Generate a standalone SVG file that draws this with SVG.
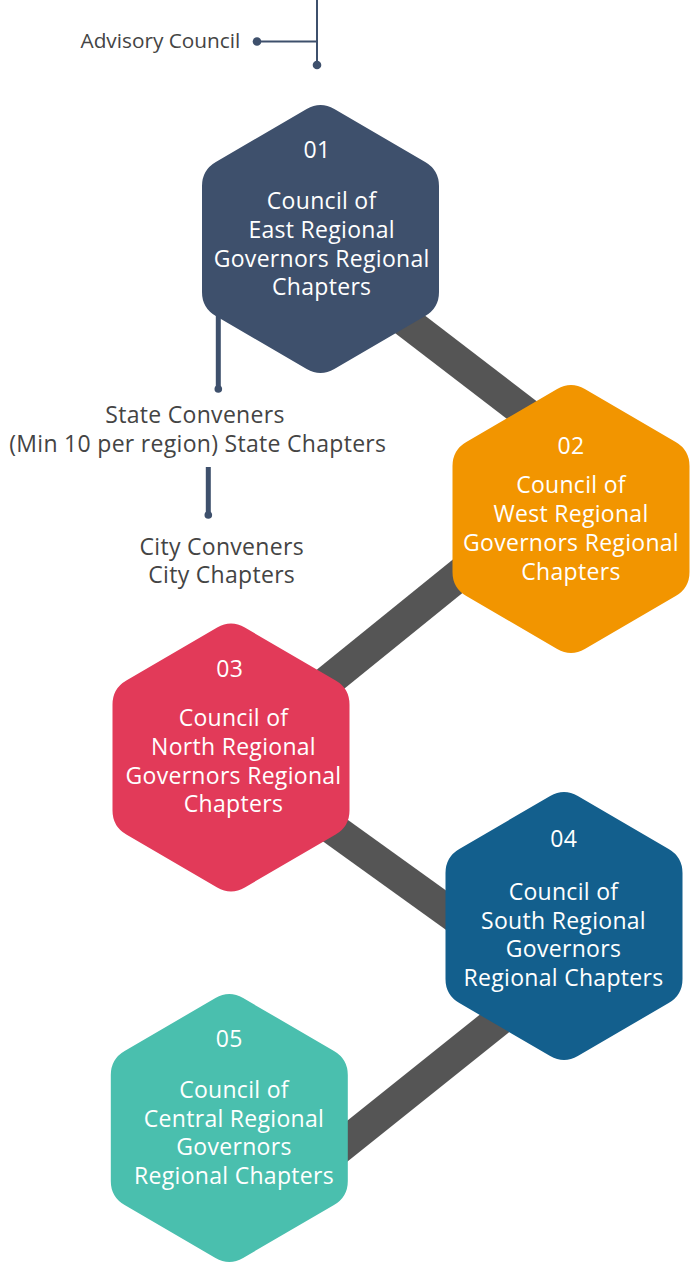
<svg xmlns="http://www.w3.org/2000/svg" xmlns:xlink="http://www.w3.org/1999/xlink" width="698" height="1263" viewBox="0 0 698 1263">
<style>
.bar{stroke:#555555;stroke-width:32;fill:none;stroke-linecap:butt}
.thin{stroke:#3e506c;stroke-width:2;fill:none}
.thick{stroke:#3e506c;stroke-width:5;fill:none}
.dot{fill:#3e506c}
.lbl{font-family:"Open Sans","Liberation Sans",sans-serif;font-size:23px;letter-spacing:0.3px;fill:#444444;text-anchor:middle}
.adv{font-family:"Open Sans","Liberation Sans",sans-serif;font-size:20.8px;fill:#444444}
.ht{font-family:"Open Sans","Liberation Sans",sans-serif;font-size:23px;letter-spacing:0.3px;fill:#ffffff;text-anchor:middle}
</style>
<defs>
<path id="hex" d="M -13.83,-129.95 Q 0,-138 13.83,-129.95 L 104.67,-77.05 Q 118.5,-69 118.5,-53 L 118.5,53 Q 118.5,69 104.67,77.05 L 13.83,129.95 Q 0,138 -13.83,129.95 L -104.67,77.05 Q -118.5,69 -118.5,53 L -118.5,-53 Q -118.5,-69 -104.67,-77.05 Z"/>
</defs>
<g id="connectors">
<line class="bar" x1="360" y1="286" x2="570" y2="447"/>
<line class="bar" x1="500" y1="542" x2="290" y2="712"/>
<line class="bar" x1="290" y1="798" x2="500" y2="949"/>
<line class="bar" x1="530" y1="995" x2="290" y2="1187"/>
<line class="thin" x1="317" y1="0" x2="317" y2="65"/>
<line class="thin" x1="257" y1="41.5" x2="317" y2="41.5"/>
<circle class="dot" cx="257" cy="41.5" r="4.3"/>
<circle class="dot" cx="317" cy="65" r="4.3"/>
<line class="thick" x1="218.3" y1="300" x2="218.3" y2="389"/>
<circle class="dot" cx="218.3" cy="389" r="3.8"/>
<line class="thick" x1="208.3" y1="467" x2="208.3" y2="515"/>
<circle class="dot" cx="208.3" cy="515" r="3.8"/>
</g>
<g id="advisory">
<text class="adv" x="80.5" y="48.3">Advisory Council</text>
</g>
<g id="state">
<text class="lbl" x="195" y="422.7">State Conveners</text>
<text class="lbl" x="197.8" y="451.7">(Min 10 per region) State Chapters</text>
</g>
<g id="city">
<text class="lbl" x="221.7" y="555">City Conveners</text>
<text class="lbl" x="221.7" y="582.7">City Chapters</text>
</g>
<g id="node1">
<use xlink:href="#hex" transform="translate(320.5,239)" fill="#3e506c"/>
<text class="ht" x="317" y="158">01</text>
<text class="ht" x="321.7" y="209">Council of</text>
<text class="ht" x="321.7" y="238">East Regional</text>
<text class="ht" x="321.7" y="266.5">Governors Regional</text>
<text class="ht" x="321.7" y="295">Chapters</text>
</g>
<g id="node2">
<use xlink:href="#hex" transform="translate(571,519)" fill="#f29500"/>
<text class="ht" x="571" y="454">02</text>
<text class="ht" x="571" y="492.5">Council of</text>
<text class="ht" x="571" y="521.5">West Regional</text>
<text class="ht" x="571" y="550.5">Governors Regional</text>
<text class="ht" x="571" y="579.5">Chapters</text>
</g>
<g id="node3">
<use xlink:href="#hex" transform="translate(231,757.5)" fill="#e23a59"/>
<text class="ht" x="229.7" y="676.5">03</text>
<text class="ht" x="233.5" y="726">Council of</text>
<text class="ht" x="233.5" y="755">North Regional</text>
<text class="ht" x="233.5" y="783.5">Governors Regional</text>
<text class="ht" x="233.5" y="812">Chapters</text>
</g>
<g id="node4">
<use xlink:href="#hex" transform="translate(564,926)" fill="#135f8d"/>
<text class="ht" x="563.8" y="847">04</text>
<text class="ht" x="563.5" y="900">Council of</text>
<text class="ht" x="563.5" y="928.5">South Regional</text>
<text class="ht" x="563.5" y="957">Governors</text>
<text class="ht" x="563.5" y="985.5">Regional Chapters</text>
</g>
<g id="node5">
<use xlink:href="#hex" transform="translate(229.3,1128)" fill="#4abfae"/>
<text class="ht" x="229.2" y="1047">05</text>
<text class="ht" x="234" y="1098">Council of</text>
<text class="ht" x="234" y="1126.5">Central Regional</text>
<text class="ht" x="234" y="1155">Governors</text>
<text class="ht" x="234" y="1183.5">Regional Chapters</text>
</g>
</svg>
